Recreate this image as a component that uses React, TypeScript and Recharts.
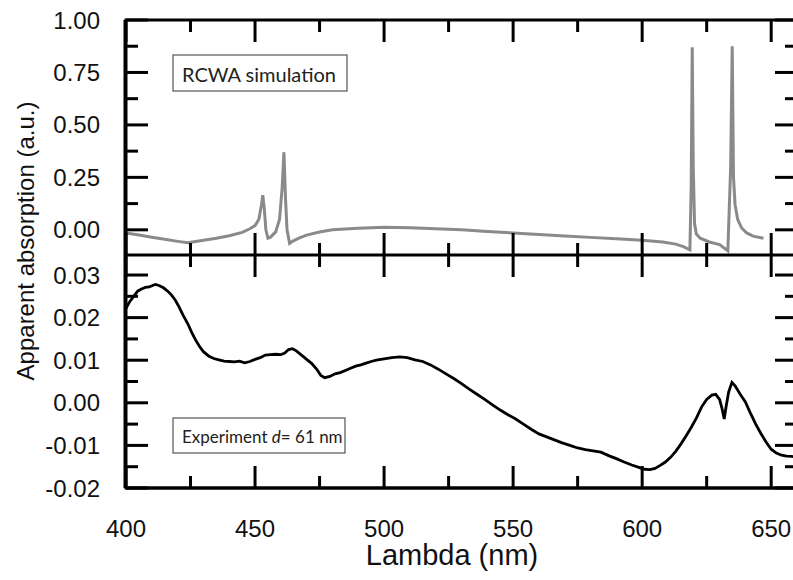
import React from 'react';
import { LineChart, Line, XAxis, YAxis, Label } from 'recharts';

// ---------- data ----------
const simWavelength = [
  400, 405, 410, 415, 420, 424, 430, 435, 440, 445, 448, 450, 451.5, 452.5, 453, 453.6, 454.2, 455, 456, 458,
  459.5, 460.5, 461.2, 461.8, 462.4, 463.4, 464.5, 467, 470, 475, 480, 490, 500, 510, 520, 530, 540, 550, 560, 570,
  580, 590, 600, 608, 613, 616, 618.5, 619, 619.4, 619.8, 620.3, 621, 622.5, 626, 630, 633.2, 634.3, 634.9, 635.4,
  636, 637, 638.5, 640.5, 643, 647,
];
const simAbsorption = [
  -0.015, -0.025, -0.035, -0.045, -0.055, -0.062, -0.05, -0.04, -0.028, -0.012, 0.005, 0.02, 0.05, 0.12, 0.165, 0.1,
  0.0, -0.04, -0.035, -0.01, 0.05, 0.2, 0.37, 0.15, 0.0, -0.065, -0.055, -0.04, -0.025, -0.01, 0.0, 0.008, 0.012,
  0.01, 0.005, 0.0, -0.008, -0.015, -0.022, -0.03, -0.036, -0.042, -0.05, -0.058, -0.068, -0.08, -0.095, 0.2, 0.87,
  0.3, 0.03, -0.02, -0.04, -0.058, -0.07, -0.1, 0.3, 0.875, 0.25, 0.12, 0.05, 0.01, -0.015, -0.03, -0.04,
];

const expWavelength = [
  400, 401.5, 403, 404.5, 406, 407.5, 409, 410.5, 411.5, 413, 414.5, 416, 417.5, 419, 420.5, 422, 424, 425.5, 427,
  428.5, 430, 432, 434, 436, 438, 440, 442, 444, 446, 448, 450, 452, 454, 456, 458, 460, 461.5, 463, 464.5, 466, 468,
  470, 472, 474, 475.5, 477, 479, 481, 483, 485, 487, 489, 491, 493, 495, 497, 500, 503, 506, 509, 512, 515, 518,
  521, 524, 527, 530, 533, 536, 539, 542, 545, 548, 551, 554, 557, 560, 563, 566, 569, 572, 575, 578, 581, 584, 587,
  590, 593, 596, 599, 601, 603, 605, 607, 609, 611, 613, 615, 617, 619, 621, 623, 625, 627, 628.5, 630, 631, 631.8,
  632.5, 633.5, 634.8, 636, 638, 640, 642, 644, 646, 648, 650, 652, 654, 656, 658, 660,
];
const expAbsorption = [
  0.0222, 0.0238, 0.025, 0.0262, 0.0267, 0.0271, 0.0272, 0.0276, 0.0278, 0.0275, 0.027, 0.0263, 0.0254, 0.0242,
  0.0226, 0.0207, 0.0185, 0.0165, 0.0147, 0.0132, 0.012, 0.011, 0.0104, 0.0101, 0.0098, 0.0097, 0.0096, 0.0098,
  0.0094, 0.0097, 0.0102, 0.0106, 0.0112, 0.0113, 0.0114, 0.0113, 0.0117, 0.0125, 0.0127, 0.0122, 0.0112, 0.0102,
  0.0092, 0.0078, 0.0064, 0.0059, 0.0062, 0.0068, 0.0071, 0.0076, 0.0081, 0.0086, 0.0089, 0.0093, 0.0097, 0.01,
  0.0103, 0.0106, 0.0108, 0.0106, 0.0101, 0.0097, 0.0089, 0.0079, 0.0068, 0.0057, 0.0045, 0.0032, 0.002, 0.0008,
  -0.0005, -0.0017, -0.0028, -0.0038, -0.005, -0.0062, -0.0073, -0.008, -0.0087, -0.0094, -0.01, -0.0106, -0.011,
  -0.0113, -0.0116, -0.0124, -0.0131, -0.0139, -0.0146, -0.0152, -0.0156, -0.0157, -0.0154, -0.0147, -0.0139,
  -0.0128, -0.0114, -0.0097, -0.0078, -0.0058, -0.0036, -0.001, 0.0008, 0.0018, 0.002, 0.0008, -0.0015, -0.0038,
  -0.001, 0.0025, 0.0048, 0.004, 0.002, 0.0002, -0.0025, -0.005, -0.0072, -0.0092, -0.0109, -0.0118, -0.0123,
  -0.0125, -0.0126, -0.0127,
];

const xTicks = [400, 425, 450, 475, 500, 525, 550, 575, 600, 625, 650];
const xMajorTicks = [400, 450, 500, 550, 600, 650];
const topYTicks = [0, 0.125, 0.25, 0.375, 0.5, 0.625, 0.75, 0.875, 1.0];
const topYMajorTicks = [0, 0.25, 0.5, 0.75, 1.0];
const botYTicks = [-0.02, -0.015, -0.01, -0.005, 0, 0.005, 0.01, 0.015, 0.02, 0.025, 0.03];
const botYMajorTicks = [-0.02, -0.01, 0, 0.01, 0.02, 0.03];

const simData = simWavelength.map((x, i) => ({ x, v: simAbsorption[i] }));
const expData = expWavelength.map((x, i) => ({ x, e: expAbsorption[i] }));

// ---------- layout ----------
const ARIAL = '"Liberation Sans", Arial, sans-serif';
const CALIBRI = 'Lato, "Open Sans", sans-serif';
const INK = '#000';
const SW = 3;
const MAJOR = 22;
const MINOR = 12;
const CHART_W = 808;
const CHART_H = 580;
const PLOT_LEFT = 126;
const PLOT_TOP = 20;
const DIVIDER = 255;
const PLOT_BOTTOM = 488;
const M_RIGHT = 11;
const PLOT_W = CHART_W - M_RIGHT - PLOT_LEFT;
const TOP_PANEL_H = DIVIDER - PLOT_TOP;
const BOT_PANEL_H = PLOT_BOTTOM - DIVIDER;

// each panel's value range, extended over the whole plot height so both panels share one chart
const topPanelDomain = [-0.12, 1.0];
const botPanelDomain = [-0.02, 0.0347];
const topSpan = (topPanelDomain[1] - topPanelDomain[0]) / TOP_PANEL_H;
const botSpan = (botPanelDomain[1] - botPanelDomain[0]) / BOT_PANEL_H;
const topAxisDomain = [topPanelDomain[0] - topSpan * BOT_PANEL_H, topPanelDomain[1]];
const botAxisDomain = [botPanelDomain[0], botPanelDomain[1] + botSpan * TOP_PANEL_H];

const isMajor = (v: number, majors: number[]) => majors.some((m) => Math.abs(m - v) < 1e-9);

const xTick = (p: any) => {
  const v = Number(p.payload.value);
  const x = Number(p.x);
  const maj = isMajor(v, xMajorTicks);
  const len = maj ? MAJOR : MINOR;
  return (
    <g>
      <line x1={x} x2={x} y1={PLOT_TOP} y2={PLOT_TOP + len} stroke={INK} strokeWidth={SW} />
      <line x1={x} x2={x} y1={DIVIDER - len} y2={DIVIDER + len} stroke={INK} strokeWidth={SW} />
      <line x1={x} x2={x} y1={PLOT_BOTTOM - len} y2={PLOT_BOTTOM} stroke={INK} strokeWidth={SW} />
      {maj ? (
        <text x={x} y={PLOT_BOTTOM + 40} textAnchor="middle" dominantBaseline="central" fontFamily={ARIAL} fontSize={24} fill="#111">
          {String(v)}
        </text>
      ) : null}
    </g>
  );
};

function makeYTick(majors: number[]) {
  return (p: any) => {
    const v = Number(p.payload.value);
    const y = Number(p.y);
    const maj = isMajor(v, majors);
    const len = maj ? MAJOR : MINOR;
    return (
      <g>
        <line x1={PLOT_LEFT} x2={PLOT_LEFT + len} y1={y} y2={y} stroke={INK} strokeWidth={SW} />
        <line x1={PLOT_LEFT + PLOT_W - len} x2={PLOT_LEFT + PLOT_W} y1={y} y2={y} stroke={INK} strokeWidth={SW} />
        {maj ? (
          <text x={PLOT_LEFT - 26} y={y} textAnchor="end" dominantBaseline="central" fontFamily={ARIAL} fontSize={24} fill="#111">
            {v.toFixed(2)}
          </text>
        ) : null}
      </g>
    );
  };
}
const topYTick = makeYTick(topYMajorTicks);
const botYTick = makeYTick(botYMajorTicks);

const decor = () => (
  <g>
    <rect x={PLOT_LEFT} y={PLOT_TOP} width={PLOT_W} height={PLOT_BOTTOM - PLOT_TOP} fill="none" stroke={INK} strokeWidth={SW} />
    <line x1={PLOT_LEFT} x2={PLOT_LEFT + PLOT_W} y1={DIVIDER} y2={DIVIDER} stroke={INK} strokeWidth={SW} />
    <rect x={PLOT_LEFT + 47} y={PLOT_TOP + 35} width={174} height={36} fill="#fff" stroke="#555" strokeWidth={1.2} />
    <text x={PLOT_LEFT + 56} y={PLOT_TOP + 54} dominantBaseline="central" fontFamily={CALIBRI} fontSize={20} fill="#222">
      RCWA simulation
    </text>
    <rect x={PLOT_LEFT + 47} y={DIVIDER + 163} width={172} height={35} fill="#fff" stroke="#555" strokeWidth={1.2} />
    <text x={PLOT_LEFT + 56} y={DIVIDER + 181} dominantBaseline="central" fontFamily={CALIBRI} fontSize={17} fill="#222">
      Experiment <tspan fontStyle="italic">d</tspan>= 61 nm
    </text>
    <text
      x={25}
      y={241}
      transform="rotate(-90 25 241)"
      textAnchor="middle"
      dominantBaseline="central"
      fontFamily={ARIAL}
      fontSize={24}
      fill="#111"
    >
      Apparent absorption (a.u.)
    </text>
  </g>
);

const xTitle = () => (
  <text x={452} y={PLOT_BOTTOM + 67} textAnchor="middle" dominantBaseline="central" fontFamily={ARIAL} fontSize={29} fill="#111">
    Lambda (nm)
  </text>
);

const hiddenTickLine = { stroke: 'transparent' };

export default function App() {
  return (
    <div style={{ position: 'fixed', left: 0, top: 0, width: 793, height: 580, overflow: 'hidden', background: '#fff' }}>
      <LineChart
        width={CHART_W}
        height={CHART_H}
        margin={{ top: PLOT_TOP, right: M_RIGHT, bottom: 0, left: PLOT_LEFT - 119 }}
      >
        <XAxis
          dataKey="x"
          type="number"
          orientation="bottom"
          domain={[400, 660]}
          ticks={xTicks}
          interval={0}
          height={CHART_H - PLOT_BOTTOM}
          tickLine={hiddenTickLine}
          axisLine={{ stroke: INK, strokeWidth: SW }}
          tick={xTick}
        >
          <Label content={xTitle} />
        </XAxis>
        <YAxis
          yAxisId="top"
          type="number"
          orientation="left"
          domain={topAxisDomain}
          ticks={topYTicks}
          interval={0}
          width={118}
          tickLine={hiddenTickLine}
          axisLine={{ stroke: INK, strokeWidth: SW }}
          tick={topYTick}
        >
          <Label content={decor} />
        </YAxis>
        <YAxis
          yAxisId="bot"
          type="number"
          orientation="left"
          domain={botAxisDomain}
          ticks={botYTicks}
          interval={0}
          width={1}
          tickLine={hiddenTickLine}
          axisLine={false}
          tick={botYTick}
        />
        <Line
          data={simData}
          yAxisId="top"
          type="linear"
          dataKey="v"
          stroke="#8a8a8a"
          strokeWidth={3}
          dot={false}
          activeDot={false}
          isAnimationActive={false}
        />
        <Line
          data={expData}
          yAxisId="bot"
          type="linear"
          dataKey="e"
          stroke="#000"
          strokeWidth={2.8}
          dot={false}
          activeDot={false}
          isAnimationActive={false}
        />
      </LineChart>
    </div>
  );
}
